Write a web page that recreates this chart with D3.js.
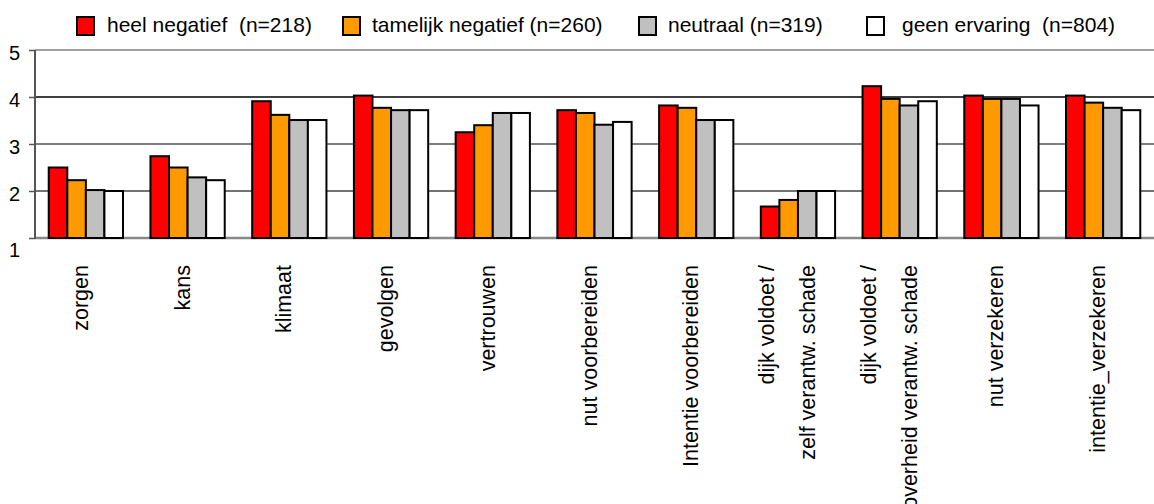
<!DOCTYPE html>
<html>
<head>
<meta charset="utf-8">
<script src="https://cdn.jsdelivr.net/npm/d3@7"></script>
<style>
  body { margin: 0; background: #fff; }
  svg { display: block; font-family: "Liberation Sans", Arial, sans-serif; }
  .pre { white-space: pre; }
</style>
</head>
<body>
<svg id="chart" width="1154" height="504"></svg>
<script>
// data
var categories = ["zorgen", "kans", "klimaat", "gevolgen", "vertrouwen",
  "nut voorbereiden", "Intentie voorbereiden", "dijk voldoet /\nzelf verantw. schade",
  "dijk voldoet /\noverheid verantw. schade", "nut verzekeren", "intentie_verzekeren"];
var seriesNames = ["heel negatief  (n=218)", "tamelijk negatief (n=260)", "neutraal (n=319)", "geen ervaring  (n=804)"];
var heelNegatief     = [2.50, 2.74, 3.91, 4.03, 3.25, 3.72, 3.82, 1.67, 4.23, 4.03, 4.03];
var tamelijkNegatief = [2.23, 2.50, 3.62, 3.77, 3.40, 3.66, 3.77, 1.81, 3.96, 3.96, 3.88];
var neutraal         = [2.02, 2.29, 3.51, 3.72, 3.66, 3.41, 3.51, 2.00, 3.82, 3.96, 3.77];
var geenErvaring     = [2.00, 2.23, 3.51, 3.72, 3.66, 3.47, 3.51, 2.00, 3.91, 3.82, 3.72];
var yTicks = [1, 2, 3, 4, 5];

var colors = ["#ff0000", "#ff9900", "#c0c0c0", "#ffffff"];
var allSeries = [heelNegatief, tamelijkNegatief, neutraal, geenErvaring];

var svg = d3.select("#chart");
var margin = {left: 35, right: 0, top: 50, bottom: 266};
var width = 1154 - margin.left - margin.right,
    height = 504 - margin.top - margin.bottom;

var g = svg.append("g").attr("transform", "translate(" + margin.left + "," + margin.top + ")");

var x0 = d3.scaleBand().domain(categories).range([0, width]).paddingInner(0.27).paddingOuter(0.135);
var x1 = d3.scaleBand().domain(d3.range(seriesNames.length)).range([0, x0.bandwidth()]);
var y = d3.scaleLinear().domain([1, 5]).range([height, 0]);

// gridlines
var gridStyle = {1: ["#888", 2.5], 2: ["#444", 1.5], 3: ["#555", 1.5], 4: ["#000", 1.5], 5: ["#a0a0a0", 2]};
g.selectAll("line.grid")
  .data(yTicks)
  .enter().append("line")
    .attr("class", "grid")
    .attr("x1", 0).attr("x2", width)
    .attr("y1", function(d) { return y(d); })
    .attr("y2", function(d) { return y(d); })
    .attr("stroke", function(d) { return gridStyle[d][0]; })
    .attr("stroke-width", function(d) { return gridStyle[d][1]; });

// y axis
var yAxis = g.append("g").call(d3.axisLeft(y).tickValues(yTicks).tickSize(6).tickPadding(9).tickFormat(d3.format("d")));
yAxis.select(".domain").attr("stroke", "#555").attr("stroke-width", 2).attr("d", "M0," + (height + 1) + "V0");
yAxis.selectAll(".tick line").attr("stroke", "#555").attr("stroke-width", 1.5);
yAxis.selectAll(".tick text").attr("font-size", 20).attr("fill", "#000")
  .attr("font-family", "'Liberation Sans', Arial, sans-serif")
  .attr("dy", function(d) { return d === 1 ? "0.9em" : "0.45em"; });

// bars
var groups = g.selectAll("g.cat")
  .data(categories)
  .enter().append("g")
    .attr("class", "cat")
    .attr("transform", function(d) { return "translate(" + x0(d) + ",0)"; });

groups.selectAll("rect")
  .data(function(d, i) { return allSeries.map(function(s, k) { return {k: k, v: s[i]}; }); })
  .enter().append("rect")
    .attr("x", function(d) { return x1(d.k); })
    .attr("width", x1.bandwidth())
    .attr("y", function(d) { return y(d.v); })
    .attr("height", function(d) { return y(1) - y(d.v); })
    .attr("fill", function(d) { return colors[d.k]; })
    .attr("stroke", "#000")
    .attr("stroke-width", 2);

// category labels, rotated (the last line of the long label runs off the bottom, as in the original)
var labels = g.selectAll("g.lab")
  .data(categories)
  .enter().append("g")
    .attr("class", "lab")
    .attr("transform", function(d) { return "translate(" + (x0(d) + x0.bandwidth() / 2) + "," + (height + 27) + ") rotate(-90)"; });

labels.each(function(d) {
  var lines = d.split("\n");
  var offs = lines.length === 1 ? [2] : [-24, 17];
  d3.select(this).selectAll("text")
    .data(lines)
    .enter().append("text")
      .attr("class", "pre")
      .attr("text-anchor", "end")
      .attr("font-size", 21.5)
      .attr("y", function(t, i) { return offs[i]; })
      .text(function(t) { return t; });
});

// legend
var legendBoxX = [77, 343, 639, 867];
var legendTextX = [107, 372, 668, 902];
var legend = svg.append("g");
seriesNames.forEach(function(name, i) {
  legend.append("rect")
    .attr("x", legendBoxX[i]).attr("y", 17)
    .attr("width", 17).attr("height", 18)
    .attr("fill", colors[i]).attr("stroke", "#000").attr("stroke-width", 2);
  legend.append("text")
    .attr("class", "pre")
    .attr("x", legendTextX[i]).attr("y", 32)
    .attr("font-size", 21)
    .text(name);
});
</script>
</body>
</html>
